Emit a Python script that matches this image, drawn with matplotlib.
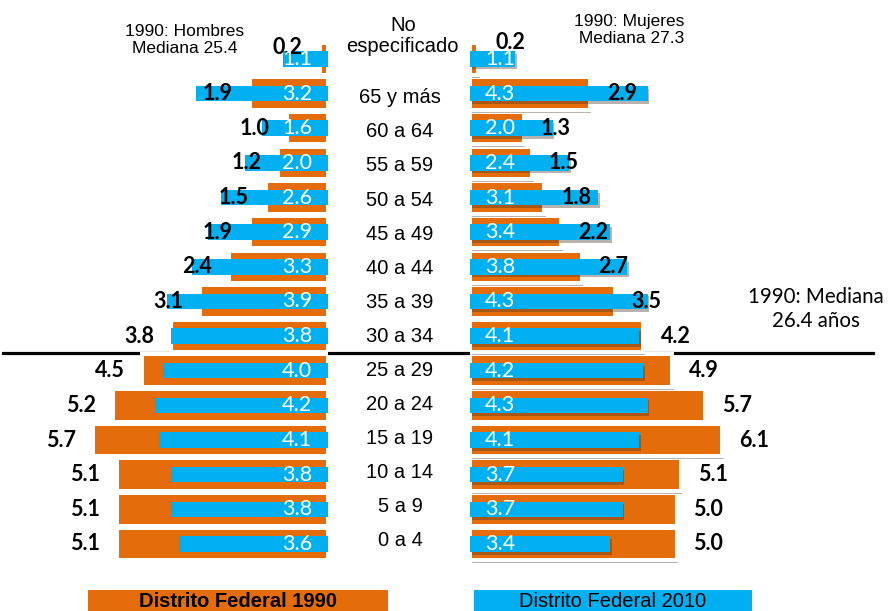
import matplotlib
matplotlib.use('Agg')
import matplotlib.pyplot as plt
import matplotlib.patheffects as pe
from matplotlib.patches import Rectangle
from matplotlib.lines import Line2D
from matplotlib.transforms import blended_transform_factory
import numpy as np

#----------------------------------------------------------------------
# Data (bottom row first)
#----------------------------------------------------------------------
grupos = ['0 a 4', '5 a 9', '10 a 14', '15 a 19', '20 a 24', '25 a 29',
          '30 a 34', '35 a 39', '40 a 44', '45 a 49', '50 a 54', '55 a 59',
          '60 a 64', '65 y más', 'No\nespecificado']
hombres_1990 = [5.1, 5.1, 5.1, 5.7, 5.2, 4.5, 3.8, 3.1, 2.4, 1.9, 1.5, 1.2, 1.0, 1.9, 0.2]
hombres_2010 = [3.6, 3.8, 3.8, 4.1, 4.2, 4.0, 3.8, 3.9, 3.3, 2.9, 2.6, 2.0, 1.6, 3.2, 1.1]
mujeres_1990 = [5.0, 5.0, 5.1, 6.1, 5.7, 4.9, 4.2, 3.5, 2.7, 2.2, 1.8, 1.5, 1.3, 2.9, 0.2]
mujeres_2010 = [3.4, 3.7, 3.7, 4.1, 4.3, 4.2, 4.1, 4.3, 3.8, 3.4, 3.1, 2.4, 2.0, 4.3, 1.1]

naranja = '#E46C0A'
azul = '#00B0F0'

W, H = 893, 611
fig = plt.figure(figsize=(W/100, H/100), dpi=100)
fig.patch.set_facecolor('white')

px_unit = 41.3            # pixels per percentage point
row = 34.65               # pixels per row
y0 = 544                  # pixel row of first group
ylim = ((y0 - H)/row, y0/row)
pos = np.arange(len(grupos))

axL = fig.add_axes([0, 0, 328/W, 1])
axR = fig.add_axes([470/W, 0, 423/W, 1])
axC = fig.add_axes([330/W, 0, 140/W, 1])

axL.set_xlim(328/px_unit, 0)
axR.set_xlim(0, 423/px_unit)
for a in (axL, axR):
    a.set_ylim(*ylim)
    a.axis('off')

shadow = [pe.SimplePatchShadow(offset=(1.2, -2.0), shadow_rgbFace='#4a3626', alpha=0.38), pe.Normal()]

# orange bars, white rim hides the divider line
axL.barh(pos, hombres_1990, height=0.938, color=naranja, edgecolor='white', linewidth=2.9)
axL.barh(pos, hombres_2010, height=0.447, color=azul, linewidth=0)
barsR = axR.barh(pos, mujeres_1990, height=0.938, color=naranja, edgecolor='white', linewidth=2.9)
barsR2 = axR.barh(pos, mujeres_2010, height=0.447, color=azul, linewidth=0)
for b in list(barsR) + list(barsR2):
    b.set_path_effects(shadow)

lab_font = dict(family=['Lato', 'DejaVu Sans'], fontsize=15.5)
gap = 17/px_unit
for i, g in enumerate(grupos):
    dyL = 0.32 if g.startswith('No') else 0
    dyR = 0.46 if g.startswith('No') else 0
    axL.text(hombres_1990[i] + gap, i + dyL, f'{hombres_1990[i]:.1f}', ha='right', va='center',
             fontweight='bold', color='black', **lab_font)
    axL.text(16/px_unit, i, f'{hombres_2010[i]:.1f}', ha='right', va='center',
             color='white', **lab_font)
    axR.text(mujeres_1990[i] + gap, i + dyR, f'{mujeres_1990[i]:.1f}', ha='left', va='center',
             fontweight='bold', color='black', **lab_font)
    axR.text(15/px_unit, i, f'{mujeres_2010[i]:.1f}', ha='left', va='center',
             color='white', **lab_font)

# centre column with the age groups
axC.set_xlim(0, 1)
axC.set_ylim((541 - H)/34.1, 541/34.1)
axC.axis('off')
for i, g in enumerate(grupos):
    if g.startswith('No'):
        axC.text(0.52, 14.8, g, ha='center', va='center', fontsize=14.5,
                 family='Liberation Sans', linespacing=1.15)
    else:
        axC.text(0.5, i, g, ha='center', va='center', fontsize=14.5, family='Liberation Sans')

# divider between 25-29 and 30-34
tr = blended_transform_factory(fig.transFigure, axL.transData)
fig.add_artist(Line2D([3/W, 873/W], [5.5, 5.5], transform=tr, color='black', lw=2.3, zorder=-1))

# annotations
fig.text(185/W, 1 - 40/H, '1990: Hombres\nMediana 25.4', ha='center', va='center',
         fontsize=12.5, family='Liberation Sans', linespacing=1.1)
fig.text(629/W, 1 - 30/H, '1990: Mujeres\n Mediana 27.3', ha='center', va='center',
         fontsize=12.5, family='Liberation Sans', linespacing=1.1)
fig.text(816/W, 1 - 309/H, '1990: Mediana\n26.4 años', ha='center', va='center',
         fontsize=14.8, family='Lato', linespacing=1.25)

# legend boxes
fig.add_artist(Rectangle((88/W, 0), 300/W, 21/H, transform=fig.transFigure,
                         facecolor=naranja, edgecolor='none'))
fig.add_artist(Rectangle((474/W, 0), 278/W, 21/H, transform=fig.transFigure,
                         facecolor=azul, edgecolor='none'))
fig.text(238/W, 4/H, 'Distrito Federal 1990', ha='center', va='baseline',
         fontsize=14.5, fontweight='bold', family='Liberation Sans')
fig.text(613/W, 4/H, 'Distrito Federal 2010', ha='center', va='baseline',
         fontsize=14.5, family='Liberation Sans')

fig.savefig('out.png', dpi=100, facecolor='white')
